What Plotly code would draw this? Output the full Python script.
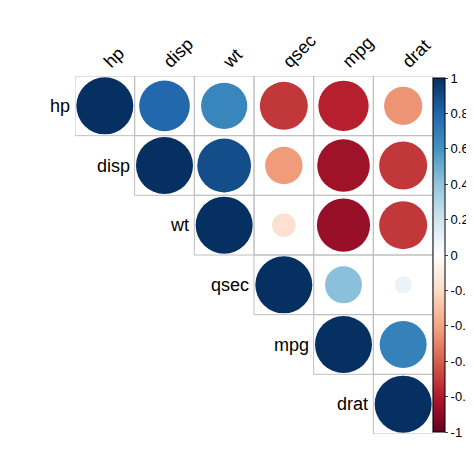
import numpy as np
import plotly.graph_objects as go

labels = ['hp', 'disp', 'wt', 'qsec', 'mpg', 'drat']
# upper-triangle correlation matrix (row, col) values
corr = [
    [1.00, 0.79, 0.66, -0.71, -0.78, -0.45],
    [None, 1.00, 0.89, -0.43, -0.85, -0.71],
    [None, None, 1.00, -0.17, -0.87, -0.71],
    [None, None, None, 1.00, 0.42, 0.09],
    [None, None, None, None, 1.00, 0.68],
    [None, None, None, None, None, 1.00],
]
cbar_vals = [1, 0.8, 0.6, 0.4, 0.2, 0, -0.2, -0.4, -0.6, -0.8, -1]

rdbu = ['#67001F', '#B2182B', '#D6604D', '#F4A582', '#FDDBC7', '#FFFFFF',
        '#D1E5F0', '#92C5DE', '#4393C3', '#2166AC', '#053061']
scale = [[i / 10, c] for i, c in enumerate(rdbu)]

xs, ys, vals = [], [], []
for i, row in enumerate(corr):
    for j, v in enumerate(row):
        if v is not None:
            xs.append(j)
            ys.append(i)
            vals.append(v)
vals = np.array(vals)
FULL = 57

fig = go.Figure(go.Scatter(
    x=xs, y=ys, mode='markers',
    marker=dict(
        size=FULL * np.sqrt(np.abs(vals)), color=vals, colorscale=scale,
        cmin=-1, cmax=1, opacity=1, line=dict(width=0),
        colorbar=dict(
            x=1.0, xanchor='left', xpad=0, ypad=0, y=0.5, len=0.99, yanchor='middle',
            thickness=12, outlinecolor='black', outlinewidth=1,
            tickvals=cbar_vals, ticktext=[f'{v:g}' for v in cbar_vals],
            ticks='outside', ticklen=3, tickfont=dict(size=13, color='black'),
        ),
    ),
    hoverinfo='skip',
))

shapes = []
for x, y in zip(xs, ys):
    shapes.append(dict(type='rect', x0=x - 0.5, x1=x + 0.5, y0=y - 0.5, y1=y + 0.5,
                       line=dict(color='#BEBEBE', width=1), layer='below'))

annotations = []
for i, lab in enumerate(labels):
    annotations.append(dict(x=(i - 0.05) / 6, y=1 - (i + 0.5) / 6, xref='paper',
                            yref='paper', text=lab, showarrow=False,
                            xanchor='right', yanchor='middle',
                            font=dict(size=18, color='black')))

fig.update_layout(
    width=474, height=474,
    margin=dict(l=67, r=49, t=68, b=48, autoexpand=False),
    paper_bgcolor='white', plot_bgcolor='white',
    showlegend=False,
    font=dict(family='Liberation Sans, Arial', color='black'),
    shapes=shapes, annotations=annotations,
    xaxis=dict(range=[-0.5, 5.5], side='top', tickvals=list(range(6)),
               ticktext=labels, tickangle=-45, tickfont=dict(size=18),
               showgrid=False, zeroline=False, ticks=''),
    yaxis=dict(range=[5.5, -0.5], showticklabels=False, showgrid=False,
               zeroline=False),
)

fig.write_html('out.html')
